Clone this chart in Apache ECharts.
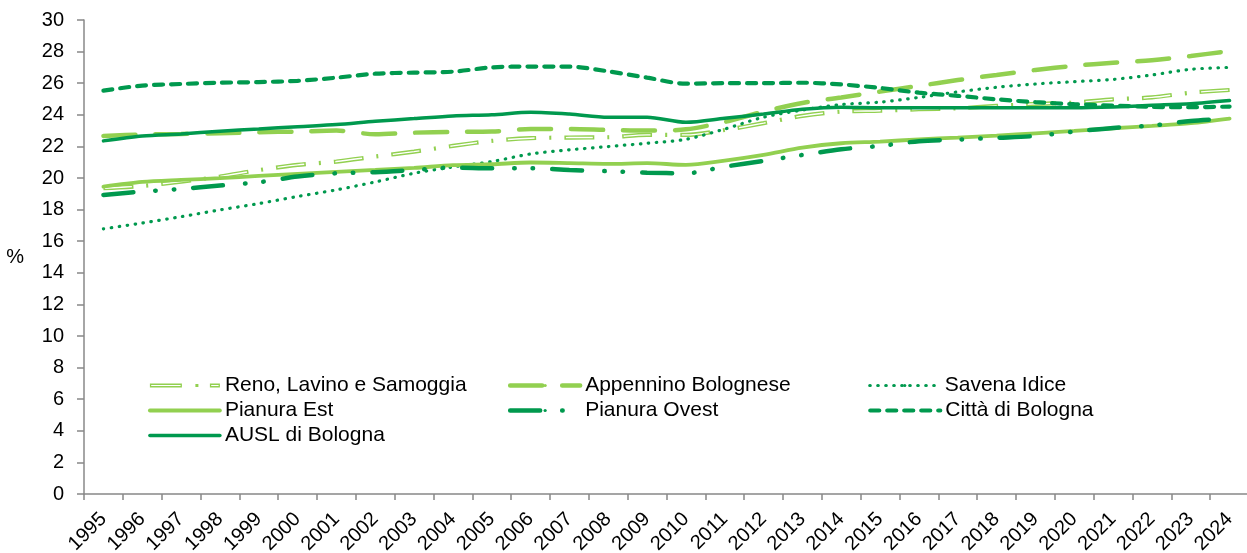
<!DOCTYPE html>
<html>
<head>
<meta charset="utf-8">
<script src="https://cdn.jsdelivr.net/npm/echarts@6/dist/echarts.min.js"></script>
<style>
html,body{margin:0;padding:0;background:#fff;}
#chart{width:1247px;height:553px;}
</style>
</head>
<body>
<div id="chart"></div>
<script>
const years = ['1995','1996','1997','1998','1999','2000','2001','2002','2003','2004','2005','2006','2007','2008','2009','2010','2011','2012','2013','2014','2015','2016','2017','2018','2019','2020','2021','2022','2023','2024'];
const yTicks = { min: 0, max: 30, interval: 2 };

const reno = [19.35,19.5,19.77,20.09,20.5,20.83,21.04,21.36,21.67,22.03,22.35,22.52,22.56,22.58,22.73,22.73,23.04,23.47,23.93,24.2,24.26,24.35,24.41,24.56,24.69,24.77,24.98,25.1,25.4,25.57];
const appennino = [22.66,22.75,22.79,22.83,22.9,22.94,23.0,22.77,22.87,22.92,22.94,23.1,23.1,23.04,23.0,23.08,23.55,24.2,24.75,25.1,25.47,25.83,26.2,26.52,26.84,27.1,27.3,27.45,27.72,28.04];
const savena = [16.78,17.15,17.55,17.98,18.38,18.83,19.25,19.75,20.3,20.7,21.04,21.52,21.78,21.99,22.2,22.45,23.1,23.85,24.3,24.65,24.8,25.1,25.45,25.74,25.95,26.1,26.24,26.52,26.88,27.0];
const pianuraEst = [19.45,19.75,19.88,19.99,20.13,20.26,20.39,20.51,20.64,20.81,20.87,20.98,20.94,20.89,20.94,20.83,21.1,21.46,21.92,22.2,22.3,22.45,22.56,22.68,22.83,22.98,23.15,23.3,23.47,23.76];
const pianuraOvest = [18.93,19.14,19.31,19.52,19.73,20.09,20.3,20.37,20.51,20.66,20.62,20.62,20.51,20.43,20.34,20.3,20.72,21.08,21.46,21.82,22.03,22.33,22.43,22.54,22.66,22.94,23.17,23.32,23.61,23.75];
const citta = [25.53,25.85,25.95,26.03,26.07,26.15,26.35,26.6,26.67,26.73,27.0,27.05,27.05,26.75,26.35,25.97,26.0,26.0,26.03,25.92,25.7,25.4,25.2,24.98,24.8,24.67,24.58,24.5,24.48,24.52];
const ausl = [22.35,22.66,22.79,22.96,23.1,23.25,23.38,23.59,23.76,23.93,24.0,24.16,24.05,23.85,23.85,23.53,23.78,24.05,24.35,24.48,24.45,24.45,24.45,24.45,24.45,24.45,24.5,24.6,24.7,24.9];

const names = ['Reno, Lavino e Samoggia','Appennino Bolognese','Savena Idice','Pianura Est','Pianura Ovest','Città di Bologna','AUSL di Bologna'];

const DARK = '#00994E';
const LIGHT = '#92D050';
const FONT = '"Liberation Sans", Arial, sans-serif';
const SM = 0.3;

function line(name, data, color, width, type, cap, extra) {
  return Object.assign({
    name: name, type: 'line', data: data, symbol: 'none', symbolSize: 0, showSymbol: false, smooth: SM,
    lineStyle: { color: color, width: width, type: type, cap: cap || 'butt' },
    itemStyle: { color: color },
    emphasis: { disabled: true }
  }, extra || {});
}

const renoIcon = 'path://M0,0 H32 V4 H0 Z M1.3,1.4 V2.6 H30.7 V1.4 Z M45.5,0.5 H48.5 V3.5 H45.5 Z M60,0 H70 V4 H60 Z M61.3,1.4 V2.6 H68.7 V1.4 Z';

const chart = echarts.init(document.getElementById('chart'));
chart.setOption({
  animation: false,
  backgroundColor: '#fff',
  textStyle: { fontFamily: FONT },
  grid: { left: 84, right: -2, top: 20, bottom: 59, containLabel: false, outerBoundsMode: 'none' },
  legend: {
    left: 148, top: 373, width: 1120, padding: 0,
    itemWidth: 70, itemHeight: 4, itemGap: 0,
    lineStyle: { width: 'inherit' },
    textStyle: { fontSize: 21, color: '#000', fontFamily: FONT, width: 283, lineHeight: 25 },
    data: [
      { name: names[0], icon: renoIcon },
      names[1], names[2], names[3], names[4], names[5], names[6]
    ]
  },
  xAxis: {
    type: 'category', data: years, boundaryGap: true,
    axisLine: { lineStyle: { color: '#888', width: 1.5 } },
    axisTick: { show: true, length: 6, alignWithLabel: false, lineStyle: { color: '#888', width: 1.5 } },
    axisLabel: { rotate: 45, fontSize: 20, color: '#000', margin: 22, interval: 0, fontFamily: FONT },
    splitLine: { show: false }
  },
  yAxis: {
    type: 'value', min: yTicks.min, max: yTicks.max, interval: yTicks.interval,
    name: '%', nameLocation: 'middle', nameRotate: 0, nameGap: 60,
    nameTextStyle: { fontSize: 20, color: '#000', fontFamily: FONT },
    axisLine: { show: true, lineStyle: { color: '#888', width: 1.5 } },
    axisTick: { show: true, length: 7, lineStyle: { color: '#888', width: 1.5 } },
    axisLabel: { fontSize: 20, color: '#000', margin: 20, fontFamily: FONT },
    splitLine: { show: false }
  },
  series: [
    line(names[0], reno, LIGHT, 4.2, [30, 13, 2, 13], 'butt'),
    line('reno_inner', reno, '#ffffff', 1.4, [27, 31], 'butt', { silent: true, lineStyle: { color: '#ffffff', width: 1.4, type: [27, 31], dashOffset: -1.5, cap: 'butt' } }),
    line(names[1], appennino, LIGHT, 4.5, [32, 20], 'round'),
    line(names[2], savena, DARK, 3.2, [0.5, 7.5], 'round'),
    line(names[3], pianuraEst, LIGHT, 3.8, 'solid', 'round'),
    line(names[4], pianuraOvest, DARK, 4.5, [30, 22, 0.5, 18, 0.5, 19], 'round'),
    line(names[5], citta, DARK, 4.2, [9, 8], 'round'),
    line(names[6], ausl, DARK, 3.5, 'solid', 'round')
  ]
});
</script>
</body>
</html>
